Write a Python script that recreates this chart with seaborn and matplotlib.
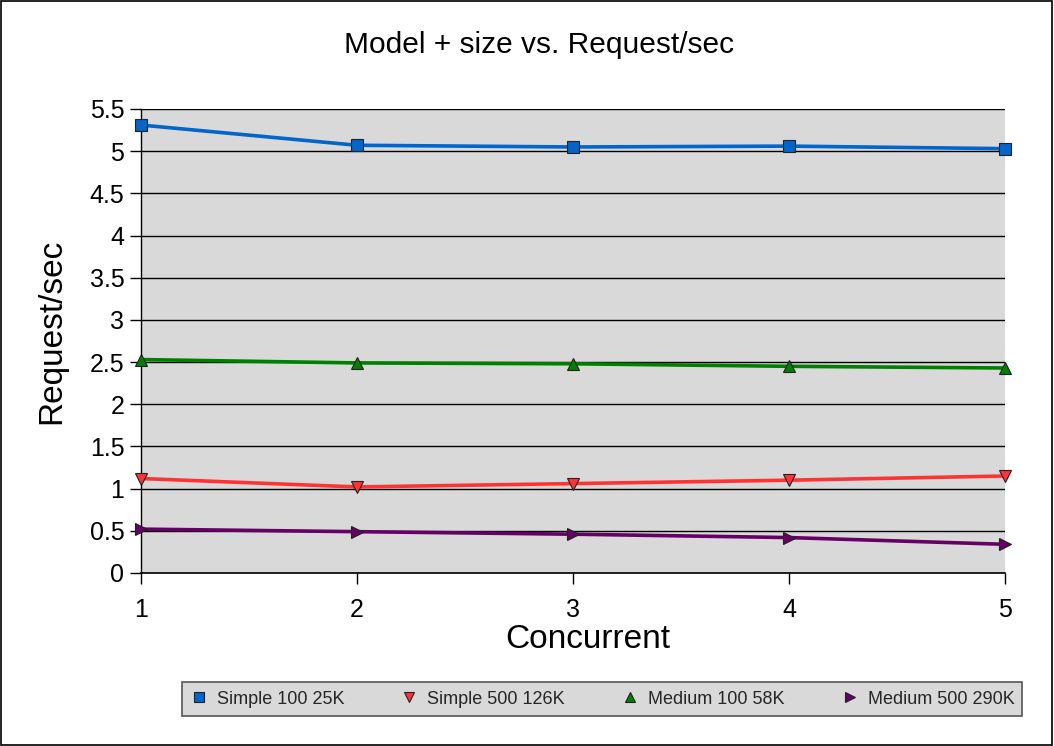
import matplotlib
matplotlib.use("Agg")
import matplotlib.pyplot as plt
import seaborn as sns
import pandas as pd
from matplotlib.lines import Line2D
from matplotlib.patches import Rectangle
from matplotlib.ticker import FormatStrFormatter, MultipleLocator

concurrent = [1, 2, 3, 4, 5]
simple_100 = [5.31, 5.07, 5.05, 5.06, 5.03]
simple_500 = [1.12, 1.02, 1.06, 1.10, 1.15]
medium_100 = [2.53, 2.49, 2.48, 2.45, 2.43]
medium_500 = [0.52, 0.49, 0.46, 0.42, 0.34]
series_names = ["Simple 100 25K", "Simple 500 126K", "Medium 100 58K", "Medium 500 290K"]

colors = ["#0066cc", "#ff3333", "#008000", "#660066"]
markers = ["s", "v", "^", ">"]

rows = []
for name, vals in zip(series_names, [simple_100, simple_500, medium_100, medium_500]):
    for x, v in zip(concurrent, vals):
        rows.append({"Concurrent": x, "Request/sec": v, "Series": name})
df = pd.DataFrame(rows)

sns.set_theme(style="white")
plt.rcParams["font.family"] = ["Liberation Sans", "DejaVu Sans"]

fig = plt.figure(figsize=(10.54, 7.46), dpi=100)
ax = fig.add_axes([141/1054, 1-573/746, (1005-141)/1054, (573-109)/746])
ax.set_facecolor("#d9d9d9")

for name, c, m in zip(series_names, colors, markers):
    sns.lineplot(data=df[df["Series"] == name], x="Concurrent", y="Request/sec",
                 color=c, marker=m, markersize=8, markeredgecolor="#222222",
                 markeredgewidth=0.8, linewidth=2.6, ax=ax, legend=False, zorder=3,
                 clip_on=False)

ax.set_xlim(1, 5)
ax.set_ylim(0, 5.5)
ax.set_xticks(concurrent)
ax.yaxis.set_major_locator(MultipleLocator(0.5))
ax.yaxis.set_major_formatter(FormatStrFormatter("%g"))
ax.grid(axis="y", color="black", linewidth=1.0)
ax.set_axisbelow(True)
for s in ["top", "right"]:
    ax.spines[s].set_visible(False)
ax.spines["left"].set_color("black")
ax.spines["bottom"].set_color("black")
ax.spines["left"].set_linewidth(1.0)
ax.spines["bottom"].set_linewidth(1.2)
ax.tick_params(axis="both", which="major", direction="out", length=8, width=1,
               color="black", labelsize=18, labelcolor="black", bottom=True, left=True, pad=4)
ax.tick_params(axis="x", pad=10)
ax.set_xlabel("Concurrent", fontsize=24, color="black", va="center")
ax.xaxis.set_label_coords((588-141)/864, (573-640)/464)
ax.set_ylabel("Request/sec", fontsize=24, color="black", va="center")
ax.yaxis.set_label_coords((52-141)/864, (573-331)/464)
fig.text(539/1054, 1-45/746, "Model + size vs. Request/sec", ha="center", va="center",
         fontsize=21.5, color="black")

handles = [Line2D([], [], linestyle="none", marker=m, color=c, markeredgecolor="#222222",
                  markeredgewidth=0.8, markersize=7.5) for c, m in zip(colors, markers)]
leg = fig.legend(handles, series_names, loc="center", bbox_to_anchor=(602/1054, 1-699/746),
                 ncol=4, fontsize=13, frameon=True, fancybox=False, handletextpad=0.5,
                 columnspacing=3.1, borderpad=0.45, handlelength=1.0)
leg.get_frame().set_facecolor("#d9d9d9")
leg.get_frame().set_edgecolor("#555555")
leg.get_frame().set_linewidth(1.2)
leg.get_frame().set_alpha(1)

fig.add_artist(Rectangle((0.001, 0.001), 0.997, 0.997, transform=fig.transFigure,
                         fill=False, edgecolor="black", linewidth=1.2))

fig.savefig("out.png", dpi=100, facecolor="white")
